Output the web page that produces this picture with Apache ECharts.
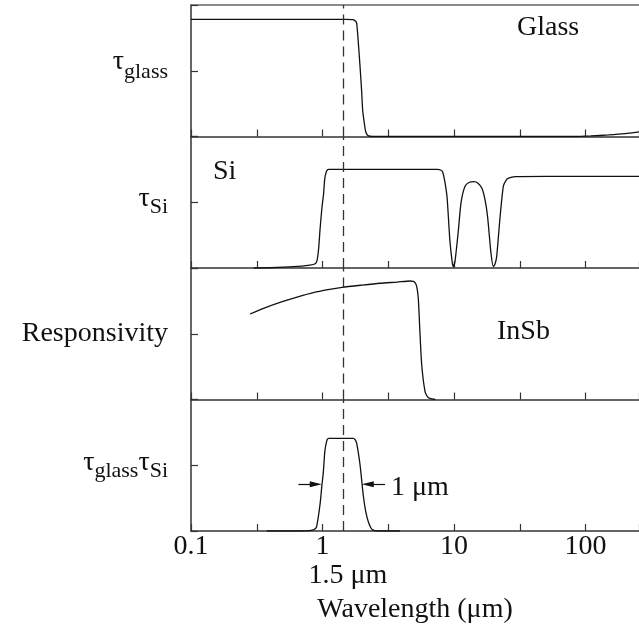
<!DOCTYPE html>
<html>
<head>
<meta charset="utf-8">
<script src="https://cdn.jsdelivr.net/npm/echarts@6/dist/echarts.min.js"></script>
<style>
  html, body { margin: 0; padding: 0; background: #fff; }
  #chart { width: 639px; height: 633px; }
</style>
</head>
<body>
<div id="chart"></div>
<script>
// [wavelength µm, relative value]
const glass = [
  [0.1, 0.891], [1.5, 0.891], [1.7, 0.888], [1.78, 0.878], [1.82, 0.86], [1.87, 0.72],
  [1.93, 0.53], [1.98, 0.36], [2.02, 0.2], [2.08, 0.1], [2.13, 0.036], [2.2, 0.01],
  [2.3, 0.002], [2.5, 0], [80, 0], [110, 0.004], [150, 0.012], [200, 0.022], [255, 0.035]
];
const si = [
  [0.3, 0], [0.4, 0.002], [0.6, 0.01], [0.8, 0.022], [0.88, 0.032], [0.91, 0.06],
  [0.935, 0.15], [0.957, 0.29], [0.99, 0.46], [1.018, 0.56], [1.04, 0.68], [1.06, 0.72],
  [1.085, 0.745], [1.115, 0.75], [7.5, 0.75], [7.9, 0.745], [8.2, 0.73], [8.5, 0.66],
  [8.85, 0.54], [9.3, 0.21], [9.7, 0.04], [9.9, 0.01], [10.2, 0.06], [10.8, 0.29],
  [11.3, 0.495], [12.1, 0.62], [13.1, 0.652], [14.2, 0.657], [15.2, 0.645], [16.3, 0.607],
  [17.2, 0.52], [18.0, 0.39], [19.1, 0.112], [19.9, 0.01], [20.5, 0.03], [21.1, 0.086],
  [22.4, 0.39], [23.7, 0.62], [24.8, 0.665], [26.0, 0.683], [29.2, 0.695], [50, 0.697], [255, 0.697]
];
const insb = [
  [0.281, 0.65], [0.36, 0.695], [0.475, 0.739], [0.65, 0.78], [0.851, 0.812], [1.1, 0.835],
  [1.41, 0.853], [2.0, 0.87], [2.74, 0.884], [3.7, 0.893], [4.63, 0.901], [4.9, 0.898],
  [5.05, 0.888], [5.2, 0.86], [5.35, 0.77], [5.5, 0.52], [5.68, 0.262], [6.02, 0.06],
  [6.3, 0.02], [6.57, 0.009], [7.2, 0]
];
const product = [
  [0.377, 0], [0.7, 0], [0.85, 0.008], [0.9, 0.03], [0.957, 0.2], [0.99, 0.35],
  [1.015, 0.45], [1.04, 0.6], [1.06, 0.654], [1.085, 0.695], [1.115, 0.705], [1.715, 0.705],
  [1.77, 0.695], [1.82, 0.667], [1.93, 0.502], [2.04, 0.274], [2.13, 0.15], [2.23, 0.07],
  [2.33, 0.025], [2.41, 0.008], [2.6, 0], [3.88, 0]
];
const panelLabels = ['{t|τ}{s|glass}', '{t|τ}{s|Si}', 'Responsivity', '{t|τ}{s|glass}{t|τ}{s|Si}'];
const decadeLabels = [0.1, 1, 10, 100];
const cutWavelength = 1.43;      // dashed line, "1.5 µm"
const fwhmLevel = 0.355;
const fwhmLeftArrow = [0.655, 0.888];
const fwhmRightArrow = [2.99, 2.21];

const FONT = 'Liberation Serif';
const LINE = '#111';
const AXIS = '#333';
const tops = [5, 136.5, 268, 399.5];
const H = 131.5;
// subscript offsets (px shift through padding) per panel
const richPad = [[18, 2], [7, 9], [0, 0], [6, 11]];

const grids = tops.map(t => ({ left: 191, right: 0, top: t, height: H, outerBoundsMode: 'none' }));

const xAxes = tops.map((t, i) => ({
  type: 'log', logBase: Math.sqrt(10), gridIndex: i, min: 0.1, max: 255,
  axisLine: { show: true, lineStyle: { color: AXIS, width: 1.5 } },
  axisTick: { show: true, inside: true, length: 7, lineStyle: { color: AXIS, width: 1.2 } },
  splitLine: { show: false },
  axisLabel: {
    show: i === 3, margin: 2, color: '#111', fontFamily: FONT, fontSize: 28,
    formatter: v => {
      const hit = decadeLabels.find(d => Math.abs(Math.log10(v) - Math.log10(d)) < 0.01);
      return hit !== undefined ? String(hit) : '';
    }
  },
  name: i === 3 ? 'Wavelength (μm)' : '',
  nameLocation: 'middle', nameGap: 65,
  nameTextStyle: { color: '#111', fontFamily: FONT, fontSize: 28 }
}));
// top border of the first panel
xAxes.push({
  type: 'log', logBase: Math.sqrt(10), gridIndex: 0, position: 'top', min: 0.1, max: 255,
  axisLine: { show: true, lineStyle: { color: '#666', width: 1.5 } },
  axisTick: { show: false }, axisLabel: { show: false }, splitLine: { show: false }
});

const yAxes = tops.map((t, i) => ({
  type: 'value', gridIndex: i, min: 0, max: 1, interval: 0.5,
  axisLine: { show: true, lineStyle: { color: AXIS, width: 1.5 } },
  axisTick: { show: true, inside: true, length: 7, lineStyle: { color: AXIS, width: 1.2 } },
  splitLine: { show: false },
  axisLabel: {
    margin: 23, color: '#111', fontFamily: FONT, fontSize: 28,
    formatter: v => (v === 0.5 ? panelLabels[i] : ''),
    rich: {
      t: { fontFamily: FONT, fontSize: 28, color: '#111', padding: [0, 0, richPad[i][0], 0] },
      s: { fontFamily: FONT, fontSize: 22, color: '#111', padding: [richPad[i][1], 0, 0, 0] }
    }
  }
}));

const dashed = {
  silent: true, symbol: 'none', animation: false,
  label: { show: false },
  lineStyle: { color: '#333', width: 1.3, type: [10, 6] },
  data: [{ xAxis: cutWavelength }]
};

const curves = [glass, si, insb, product];
const series = curves.map((d, i) => ({
  type: 'line', xAxisIndex: i, yAxisIndex: i, data: d,
  showSymbol: false, symbol: 'none', smooth: 0.2,
  lineStyle: { color: LINE, width: 1.3 },
  markLine: dashed, animation: false
}));
series.push({
  type: 'line', xAxisIndex: 3, yAxisIndex: 3, data: [], animation: false,
  markLine: {
    silent: true, animation: false, symbol: ['none', 'triangle'], symbolSize: [6, 12],
    label: { show: false },
    lineStyle: { color: '#111', width: 1.2, type: 'solid' },
    data: [
      [{ coord: [fwhmLeftArrow[0], fwhmLevel] }, { coord: [fwhmLeftArrow[1], fwhmLevel] }],
      [{ coord: [fwhmRightArrow[0], fwhmLevel] }, { coord: [fwhmRightArrow[1], fwhmLevel] }]
    ]
  }
});

const txt = (x, y, s, align) => ({
  type: 'text', left: undefined, x: x, y: y, silent: true,
  style: { text: s, fill: '#111', font: '28px "' + FONT + '"', textAlign: align || 'left', textVerticalAlign: 'middle' }
});

const chart = echarts.init(document.getElementById('chart'));
chart.setOption({
  animation: false,
  backgroundColor: '#fff',
  grid: grids,
  xAxis: xAxes,
  yAxis: yAxes,
  series: series,
  graphic: [
    txt(517, 28, 'Glass'),
    txt(213, 172, 'Si'),
    txt(497, 332, 'InSb'),
    txt(391, 487.5, '1 μm'),
    txt(348, 575.5, '1.5 μm', 'center')
  ]
});
</script>
</body>
</html>
